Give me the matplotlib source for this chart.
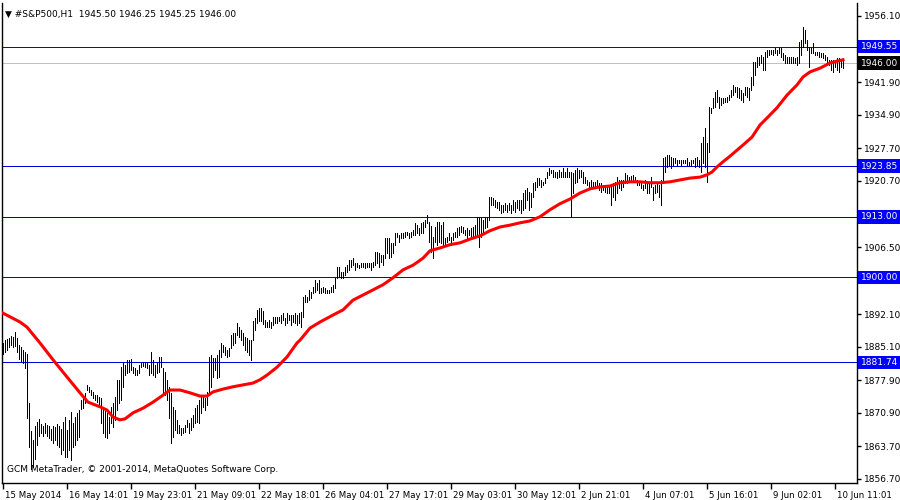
import matplotlib
matplotlib.use('Agg')
import matplotlib.pyplot as plt
import matplotlib.transforms as mtransforms

plt.rcParams['font.family'] = ['DejaVu Sans']

# hourly bars (high / low), one row per date label block of 32 bars
highs = [
    1886.0, 1886.5, 1886.8, 1887.0, 1887.5, 1887.2, 1888.3, 1887.0, 1885.5, 1885.0, 1884.5, 1884.0, 1883.5, 1873.0, 1867.0, 1865.0,
    1868.0, 1869.0, 1869.5, 1868.5, 1868.0, 1868.8, 1868.2, 1868.0, 1867.5, 1868.0, 1867.8, 1868.5, 1868.0, 1867.5, 1869.0, 1870.0,
    1867.2, 1869.4, 1871.1, 1868.7, 1870.0, 1870.9, 1871.5, 1873.7, 1874.3, 1875.2, 1876.9, 1876.5, 1875.8, 1875.4, 1874.7, 1874.7,
    1874.3, 1874.1, 1872.2, 1871.5, 1870.9, 1870.0, 1872.2, 1873.0, 1874.3, 1878.0, 1878.0, 1880.7, 1881.6, 1881.2, 1882.2, 1882.2,
    1882.5, 1880.7, 1880.5, 1880.1, 1881.2, 1881.6, 1881.8, 1881.8, 1881.6, 1881.2, 1883.9, 1882.2, 1881.2, 1881.6, 1882.9, 1882.9,
    1880.5, 1879.7, 1878.0, 1876.5, 1875.2, 1872.2, 1871.5, 1869.4, 1868.3, 1867.7, 1867.7, 1868.3, 1869.4, 1868.7, 1869.8, 1870.4,
    1872.0, 1872.6, 1873.7, 1874.7, 1874.3, 1874.1, 1875.4, 1882.9, 1883.3, 1882.7, 1882.7, 1883.3, 1884.4, 1885.9, 1885.5, 1885.0,
    1884.4, 1884.8, 1887.6, 1888.0, 1888.0, 1890.2, 1889.3, 1888.7, 1888.0, 1887.2, 1887.0, 1886.5, 1886.5, 1890.6, 1891.3, 1893.0,
    1893.4, 1893.4, 1892.8, 1890.8, 1890.4, 1890.8, 1890.4, 1891.5, 1891.5, 1891.5, 1891.5, 1891.9, 1892.3, 1891.3, 1892.3, 1891.9,
    1891.9, 1891.9, 1892.3, 1891.9, 1892.3, 1892.5, 1895.8, 1896.2, 1895.8, 1897.3, 1896.8, 1897.9, 1899.4, 1898.8, 1899.4, 1897.7,
    1897.9, 1897.7, 1897.3, 1897.3, 1897.9, 1898.4, 1899.9, 1902.2, 1902.2, 1901.1, 1901.1, 1902.2, 1902.6, 1903.7, 1903.7, 1904.1,
    1903.0, 1903.0, 1902.6, 1903.0, 1903.0, 1903.0, 1903.0, 1903.0, 1903.0, 1903.3, 1905.4, 1905.4, 1905.2, 1904.8, 1904.8, 1908.4,
    1908.4, 1908.4, 1907.4, 1907.4, 1909.5, 1909.5, 1909.1, 1909.5, 1909.5, 1909.7, 1909.7, 1909.5, 1909.7, 1910.2, 1911.7, 1911.2,
    1910.6, 1911.7, 1911.9, 1912.3, 1913.4, 1911.9, 1911.0, 1908.7, 1910.8, 1911.9, 1911.9, 1911.2, 1911.9, 1908.4, 1908.7, 1909.5,
    1908.7, 1909.5, 1909.7, 1910.6, 1910.8, 1911.0, 1910.8, 1910.2, 1910.6, 1910.2, 1910.6, 1910.8, 1911.2, 1912.9, 1912.9, 1912.7,
    1912.3, 1912.7, 1912.9, 1917.2, 1917.2, 1917.0, 1916.6, 1916.1, 1916.1, 1915.5, 1915.5, 1915.9, 1915.5, 1915.9, 1915.5, 1916.6,
    1916.1, 1916.6, 1916.6, 1916.6, 1918.1, 1918.7, 1919.2, 1918.3, 1918.1, 1920.2, 1920.5, 1921.3, 1921.3, 1920.9, 1920.5, 1921.3,
    1922.6, 1923.5, 1923.0, 1923.0, 1922.6, 1922.6, 1923.0, 1922.6, 1923.5, 1922.6, 1923.5, 1922.6, 1922.6, 1922.4, 1923.0, 1923.5,
    1923.0, 1923.0, 1922.6, 1921.5, 1920.9, 1920.5, 1920.9, 1920.5, 1920.5, 1920.9, 1920.2, 1920.2, 1919.8, 1919.8, 1919.8, 1919.4,
    1919.8, 1920.2, 1920.5, 1921.5, 1920.9, 1920.9, 1920.9, 1922.4, 1922.0, 1921.5, 1921.7, 1922.0, 1921.5, 1920.9, 1920.5, 1920.2,
    1919.8, 1920.9, 1920.5, 1920.5, 1921.5, 1919.4, 1919.8, 1920.2, 1919.8, 1920.9, 1925.6, 1925.8, 1926.3, 1926.3, 1925.8, 1925.6,
    1925.6, 1925.2, 1925.2, 1925.2, 1925.2, 1925.2, 1925.6, 1924.8, 1925.2, 1925.2, 1925.6, 1925.8, 1925.2, 1928.8, 1930.1, 1932.1,
    1928.8, 1936.6, 1936.4, 1938.5, 1939.8, 1940.2, 1938.7, 1938.5, 1938.5, 1938.5, 1938.7, 1939.1, 1940.2, 1941.3, 1940.8, 1940.8,
    1940.6, 1940.2, 1939.6, 1940.8, 1940.8, 1940.6, 1943.0, 1946.2, 1946.2, 1947.3, 1947.3, 1947.7, 1947.3, 1948.4, 1948.8, 1948.8,
    1948.8, 1948.8, 1949.2, 1948.8, 1949.2, 1949.2, 1948.2, 1947.7, 1947.3, 1947.3, 1947.3, 1947.3, 1947.1, 1947.3, 1950.5, 1950.9,
    1953.7, 1953.1, 1950.9, 1949.4, 1949.2, 1950.3, 1948.4, 1948.4, 1948.4, 1948.2, 1948.2, 1947.7, 1947.3, 1946.7, 1946.7, 1946.7,
    1946.7, 1947.1, 1947.1, 1946.7, 1946.7,
]
lows = [
    1883.5, 1884.0, 1884.5, 1885.0, 1885.5, 1885.0, 1885.2, 1884.0, 1882.5, 1882.0, 1881.5, 1880.5, 1869.8, 1863.5, 1858.8, 1859.3,
    1861.0, 1864.0, 1866.0, 1866.5, 1866.0, 1866.5, 1866.0, 1865.5, 1865.0, 1864.5, 1865.0, 1864.0, 1863.5, 1862.0, 1863.0, 1861.5,
    1861.4, 1862.9, 1860.8, 1863.6, 1864.0, 1865.1, 1865.7, 1871.7, 1872.0, 1873.0, 1875.8, 1875.4, 1874.7, 1874.1, 1873.7, 1873.2,
    1872.2, 1868.7, 1866.6, 1865.7, 1865.5, 1866.6, 1868.7, 1867.9, 1869.4, 1871.5, 1873.0, 1873.7, 1876.5, 1879.0, 1879.4, 1879.6,
    1880.0, 1879.4, 1879.0, 1879.0, 1879.4, 1880.7, 1881.0, 1880.7, 1880.5, 1879.0, 1879.4, 1879.0, 1878.6, 1879.4, 1879.7, 1880.7,
    1875.2, 1874.7, 1873.7, 1869.7, 1864.5, 1865.7, 1867.2, 1866.6, 1866.6, 1866.2, 1866.6, 1866.8, 1867.9, 1866.6, 1867.2, 1867.9,
    1868.7, 1868.9, 1868.7, 1870.9, 1872.2, 1871.5, 1872.6, 1875.2, 1876.5, 1878.6, 1880.1, 1878.4, 1878.6, 1882.9, 1884.0, 1883.3,
    1882.9, 1883.1, 1884.8, 1885.5, 1885.9, 1887.6, 1887.2, 1886.5, 1885.5, 1884.4, 1884.0, 1883.3, 1882.2, 1886.5, 1888.7, 1890.2,
    1890.6, 1890.6, 1890.0, 1889.3, 1889.3, 1889.3, 1889.1, 1889.8, 1890.2, 1890.2, 1890.6, 1890.2, 1890.8, 1889.8, 1890.2, 1890.8,
    1889.8, 1890.4, 1890.2, 1889.8, 1890.2, 1889.3, 1891.5, 1894.7, 1894.7, 1895.1, 1895.6, 1896.6, 1896.8, 1897.3, 1896.6, 1896.6,
    1896.8, 1896.6, 1896.6, 1896.6, 1896.8, 1896.8, 1897.7, 1899.9, 1900.1, 1899.9, 1899.9, 1900.5, 1901.1, 1901.6, 1902.2, 1902.6,
    1901.6, 1902.2, 1902.0, 1902.2, 1902.2, 1902.0, 1902.2, 1902.2, 1901.6, 1902.2, 1902.6, 1903.0, 1902.2, 1903.3, 1902.6, 1904.1,
    1905.2, 1904.1, 1904.4, 1905.2, 1906.9, 1908.7, 1907.6, 1908.4, 1908.4, 1908.7, 1909.1, 1908.4, 1908.7, 1909.1, 1909.1, 1909.5,
    1909.1, 1909.5, 1909.5, 1910.8, 1911.7, 1907.6, 1905.4, 1904.1, 1907.6, 1906.9, 1907.6, 1907.4, 1906.5, 1906.9, 1907.6, 1908.0,
    1907.4, 1908.0, 1908.7, 1908.7, 1909.1, 1909.7, 1909.5, 1909.1, 1908.4, 1909.1, 1908.7, 1908.7, 1909.1, 1908.7, 1906.5, 1908.7,
    1909.7, 1910.6, 1910.8, 1912.3, 1915.5, 1915.5, 1915.1, 1914.9, 1914.4, 1913.8, 1914.0, 1914.4, 1914.0, 1914.4, 1913.8, 1914.4,
    1914.0, 1914.9, 1914.4, 1913.8, 1914.4, 1914.9, 1916.6, 1914.4, 1915.1, 1917.2, 1918.7, 1919.4, 1919.8, 1919.4, 1919.8, 1920.2,
    1921.3, 1922.0, 1922.4, 1921.5, 1921.5, 1921.3, 1921.5, 1921.5, 1921.5, 1921.5, 1921.5, 1921.5, 1912.9, 1918.1, 1920.2, 1920.5,
    1921.3, 1921.5, 1920.2, 1920.2, 1919.8, 1919.4, 1919.4, 1919.4, 1919.2, 1919.4, 1918.7, 1918.3, 1918.7, 1918.3, 1918.1, 1918.1,
    1915.5, 1917.2, 1916.6, 1918.1, 1919.2, 1918.7, 1919.4, 1920.2, 1920.2, 1920.5, 1920.9, 1920.5, 1920.5, 1919.8, 1919.8, 1919.2,
    1918.7, 1919.2, 1918.1, 1918.1, 1919.4, 1916.6, 1918.1, 1918.3, 1917.2, 1915.5, 1920.2, 1922.6, 1923.7, 1924.1, 1923.5, 1924.1,
    1924.5, 1924.1, 1924.5, 1924.1, 1924.5, 1924.5, 1924.1, 1924.1, 1924.1, 1924.5, 1923.7, 1924.1, 1923.7, 1922.6, 1924.6, 1923.7,
    1920.5, 1926.9, 1935.3, 1936.4, 1936.6, 1937.6, 1936.4, 1937.0, 1937.4, 1937.6, 1937.6, 1938.1, 1938.7, 1939.1, 1939.8, 1938.7,
    1938.5, 1938.1, 1937.6, 1939.1, 1938.7, 1938.1, 1940.2, 1941.3, 1943.4, 1945.2, 1945.6, 1946.0, 1944.5, 1944.5, 1947.3, 1947.7,
    1948.0, 1947.7, 1948.2, 1947.7, 1948.2, 1947.3, 1946.7, 1946.0, 1946.0, 1946.0, 1946.0, 1946.0, 1946.0, 1945.6, 1946.0, 1947.7,
    1949.4, 1950.3, 1948.8, 1945.2, 1948.2, 1948.2, 1947.7, 1947.7, 1947.3, 1947.3, 1947.1, 1946.7, 1946.0, 1945.6, 1944.5, 1944.1,
    1945.2, 1944.5, 1944.1, 1945.2, 1944.9,
]

# moving average (red line), read at selected bars
ma_bars = [0, 8.5, 12, 18.5, 25, 32, 38.5, 42.5, 48.5, 52, 55, 58.5, 61, 65, 70, 75, 80, 83.5, 88.5, 93.5,
           98.5, 102, 105, 110, 115, 120, 125, 128.5, 132, 137, 142, 147, 148.5, 153.5, 158.5, 165, 170, 175, 180, 185,
           190, 195, 200, 205, 210, 213.5, 218.5, 223.5, 228.5, 233.5, 238.5, 243.5, 248.5, 253.5, 258.5, 263.5, 268.5,
           273.5, 278.5, 283.5, 288.5, 293.5, 298.5, 303.5, 308.5, 313.5, 318.5, 323.5, 328.5, 333.5, 338.5, 343.5,
           348.5, 352, 354.5, 357, 360, 363.5, 367, 370, 374.5, 378.5, 382, 387, 392, 397, 400, 403.5, 408.5, 413.5, 417, 420]
ma_values = [1892.3, 1890.4, 1889.3, 1885.9, 1882.3, 1878.6, 1875.2, 1873.2, 1872.2, 1871.5, 1870.0, 1869.4, 1869.6,
             1870.9, 1871.9, 1873.2, 1874.7, 1875.8, 1875.8, 1875.2, 1874.5, 1874.5, 1875.4, 1876.0, 1876.5, 1876.9,
             1877.3, 1878.0, 1879.0, 1880.7, 1882.9, 1885.9, 1886.5, 1889.1, 1890.4, 1891.9, 1893.0, 1895.1, 1896.2,
             1897.3, 1898.4, 1899.9, 1901.6, 1902.6, 1904.1, 1905.7, 1906.3, 1907.0, 1907.4, 1908.2, 1908.9, 1910.0,
             1910.8, 1911.2, 1911.7, 1912.1, 1913.0, 1914.5, 1915.8, 1916.8, 1918.1, 1919.0, 1919.4, 1919.6, 1920.3,
             1920.5, 1920.5, 1920.3, 1920.3, 1920.5, 1920.9, 1921.3, 1921.5, 1922.0, 1922.6, 1923.7, 1924.8, 1926.0,
             1927.3, 1928.4, 1930.1, 1932.7, 1934.2, 1936.4, 1939.1, 1941.3, 1943.0, 1944.1, 1944.9, 1946.0, 1946.4, 1946.7]

level_prices = [1949.55, 1923.85, 1913.00, 1900.00, 1881.74]
level_colors = ['#0000ff', '#0000d0', '#0000d0', '#0000ff', '#0000d0']
last_price = 1946.00

# right axis grid prices; the ones hidden behind the level boxes get no label
price_ticks = [1956.10, 1949.10, 1941.90, 1934.90, 1927.70, 1920.70, 1913.50, 1906.50,
               1899.30, 1892.10, 1885.10, 1877.90, 1870.90, 1863.70, 1856.70]
hidden_ticks = [1949.10, 1913.50, 1899.30]
date_labels = ['15 May 2014', '16 May 14:01', '19 May 23:01', '21 May 09:01', '22 May 18:01',
               '26 May 04:01', '27 May 17:01', '29 May 03:01', '30 May 12:01', '2 Jun 21:01',
               '4 Jun 07:01', '5 Jun 16:01', '9 Jun 02:01', '10 Jun 11:01']
title = '\u25bc #S&P500,H1  1945.50 1946.25 1945.25 1946.00'
copyright_text = 'GCM MetaTrader, \u00a9 2001-2014, MetaQuotes Software Corp.'

fig = plt.figure(figsize=(9, 5), dpi=100)
ax = fig.add_axes([2 / 900, 17 / 500, 855 / 900, 480 / 500])

# price bars, 1 px wide
ax.vlines(range(len(highs)), lows, highs, color='black', lw=0.72, antialiased=False, zorder=3)

# moving average
ax.plot(ma_bars, ma_values, color='#ff0000', lw=2.2, zorder=4)

# horizontal levels, 1 px
for p, c in zip(level_prices, level_colors):
    ax.axhline(p, color=c, lw=0.72, antialiased=False, zorder=2)
ax.axhline(last_price, color='#c0c0c0', lw=0.72, antialiased=False, zorder=1)

ax.set_xlim(-0.5, 427)
ax.set_ylim(1855.84, 1958.89)

# right price axis
ax.yaxis.tick_right()
ax.set_yticks(price_ticks)
ax.set_yticklabels(['' if v in hidden_ticks else '%.2f' % v for v in price_ticks])
ax.tick_params(axis='y', direction='out', length=3, width=1, labelsize=6.5, pad=2, colors='black')

# bottom date axis
ax.set_xticks(range(0, 32 * len(date_labels), 32))
ax.set_xticklabels(date_labels, ha='left')
ax.tick_params(axis='x', direction='out', length=4, width=1, labelsize=6.2, pad=1.5)
offset = mtransforms.ScaledTranslation(2 / 100, 0, fig.dpi_scale_trans)
for lbl in ax.get_xticklabels():
    lbl.set_transform(lbl.get_transform() + offset)

for side in ['left', 'right', 'bottom']:
    ax.spines[side].set_color('black')
    ax.spines[side].set_linewidth(1)
ax.spines['top'].set_visible(False)

# price boxes on the right axis
ytrans = ax.get_yaxis_transform()
box_colors = ['#0000ff'] * len(level_prices) + ['black']
for p, fc in zip(level_prices + [last_price], box_colors):
    ax.annotate('%.2f' % p, xy=(1, p), xycoords=ytrans, xytext=(2.5, 0), textcoords='offset points',
                ha='left', va='center', fontsize=6.5, color='white', annotation_clip=False, zorder=10,
                bbox=dict(boxstyle='square,pad=0.25', fc=fc, ec='none'))

ax.text(0.004, 0.985, title, transform=ax.transAxes, fontsize=6.5, ha='left', va='top')
ax.text(0.006, 0.018, copyright_text, transform=ax.transAxes, fontsize=6.5, ha='left', va='bottom')

fig.savefig('out.png', dpi=100)
